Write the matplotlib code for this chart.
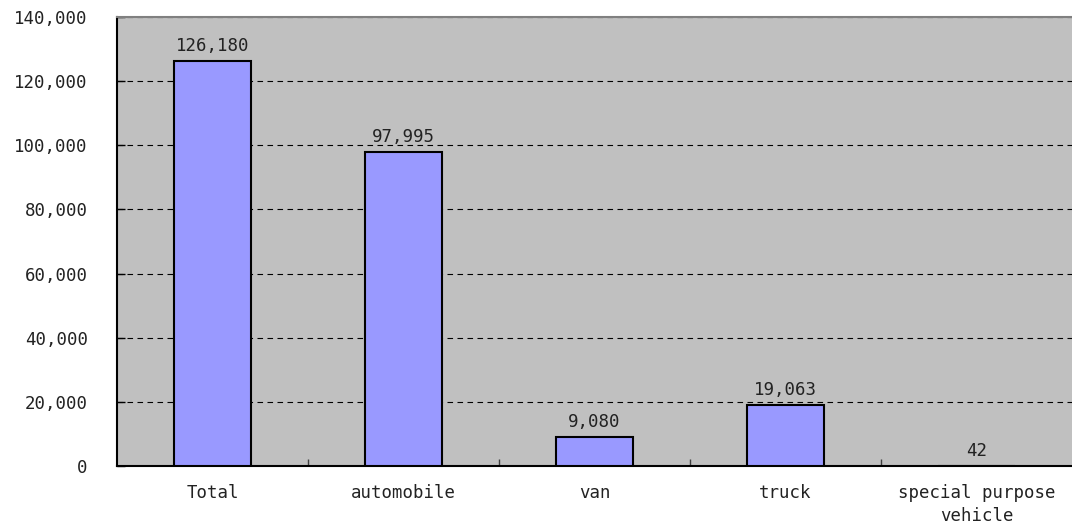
import matplotlib.pyplot as plt
from matplotlib.ticker import FuncFormatter

categories = ["Total", "automobile", "van", "truck", "special purpose\nvehicle"]
values = [126180, 97995, 9080, 19063, 42]
yticks = [0, 20000, 40000, 60000, 80000, 100000, 120000, 140000]

plt.rcParams['font.family'] = ['DejaVu Sans Mono']
plt.rcParams['font.size'] = 12.5
txt_color = '#222222'

fig = plt.figure(figsize=(10.72, 5.27), dpi=100)
ax = fig.add_axes([117 / 1072, 1 - 466 / 527, 1 - 117 / 1072, (466 - 17) / 527])
ax.set_facecolor('#C0C0C0')

x = range(len(categories))
ax.bar(x, values, width=0.4, color='#9999FF', edgecolor='black', linewidth=1.5, zorder=3)

for xi, v in zip(x, values):
    ax.text(xi, v + 1900, f"{v:,}", ha='center', va='bottom', color=txt_color, zorder=4)

ax.set_xlim(-0.5, len(categories) - 0.5)
ax.set_ylim(0, 140000)
ax.set_yticks(yticks)
ax.yaxis.set_major_formatter(FuncFormatter(lambda v, p: f"{int(v):,}"))
ax.yaxis.grid(True, color='black', linestyle=(0, (5, 4)), linewidth=0.8, zorder=1)

ax.set_xticks(list(x))
ax.set_xticklabels(categories, linespacing=1.35, color=txt_color)
ax.tick_params(axis='x', length=0, pad=13)
ax.set_xticks([i + 0.5 for i in range(len(categories) - 1)], minor=True)
ax.tick_params(axis='x', which='minor', direction='in', length=5, width=1, color='#404040')
ax.tick_params(axis='y', direction='in', length=6, width=1, pad=21, labelcolor=txt_color)

ax.spines['left'].set_color('black')
ax.spines['left'].set_linewidth(1.5)
ax.spines['bottom'].set_color('black')
ax.spines['bottom'].set_linewidth(1.5)
ax.spines['top'].set_color('#808080')
ax.spines['top'].set_linewidth(1.5)
ax.spines['right'].set_visible(False)

fig.savefig('out.png', dpi=100, facecolor='white')
